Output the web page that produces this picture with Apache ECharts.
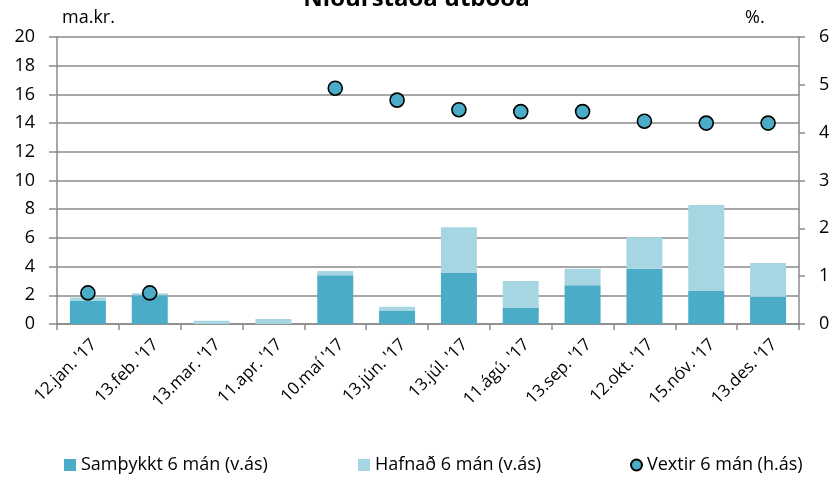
<!DOCTYPE html>
<html><head><meta charset="utf-8">
<script src="https://cdn.jsdelivr.net/npm/echarts@6/dist/echarts.min.js"></script>
<style>html,body{margin:0;padding:0;background:#fff}#c{width:833px;height:478px}</style>
</head><body><div id="c"></div>
<script>
const categories = ["12.jan. '17","13.feb. '17","13.mar. '17","11.apr. '17","10.maí '17","13.jún. '17","13.júl. '17","11.ágú. '17","13.sep. '17","12.okt. '17","15.nóv. '17","13.des. '17"];
const samthykkt = [1.6, 2.0, 0, 0, 3.4, 0.9, 3.55, 1.15, 2.7, 3.85, 2.3, 1.9];
const hafnad = [0.25, 0.15, 0.23, 0.35, 0.3, 0.3, 3.2, 1.85, 1.15, 2.2, 6.0, 2.35];
const vextir = [0.65, 0.65, null, null, 4.93, 4.68, 4.48, 4.44, 4.44, 4.24, 4.2, 4.2];
const leftTicks = {min:0, max:20, interval:2};
const rightTicks = {min:0, max:6, interval:1};

const FONT = "'Open Sans', sans-serif";
const grey = '#8a8a8a';
const chart = echarts.init(document.getElementById('c'), null, {renderer:'canvas'});
const legendText = {fontFamily:FONT, fontSize:18, color:'#000'};
chart.setOption({
  animation:false,
  title:{text:'Niðurstaða útboða', left:'center', top:-13, padding:0, textStyle:{fontFamily:FONT, fontSize:24, fontWeight:'bold', color:'#000'}},
  graphic:[
    {type:'text', left:62, top:9, style:{text:'ma.kr.', font:"18px 'Open Sans', sans-serif", fill:'#000'}},
    {type:'text', left:745, top:9, style:{text:'%.', font:"18px 'Open Sans', sans-serif", fill:'#000'}}
  ],
  grid:{left:57, right:34, top:37, bottom:154, containLabel:false},
  legend:[
    {data:[{name:'Samþykkt 6 mán (v.ás)', icon:'rect'}], left:64, top:456, padding:0, itemWidth:12, itemHeight:12, textStyle:legendText},
    {data:[{name:'Hafnað 6 mán (v.ás)', icon:'rect'}], left:358, top:456, padding:0, itemWidth:12, itemHeight:12, textStyle:legendText},
    {data:[{name:'Vextir 6 mán (h.ás)', icon:'circle'}], left:630, top:456, padding:0, itemWidth:11, itemHeight:11, textStyle:legendText}
  ],
  xAxis:{type:'category', data:categories, boundaryGap:true,
    axisLine:{lineStyle:{color:grey, width:1.5}},
    axisTick:{show:true, alignWithLabel:false, length:6, lineStyle:{color:grey, width:1.5}},
    axisLabel:{rotate:45, interval:0, margin:12, verticalAlign:'top', fontFamily:FONT, fontSize:17, color:'#000'}},
  yAxis:[
    {type:'value', min:leftTicks.min, max:leftTicks.max, interval:leftTicks.interval,
     axisLine:{show:true, lineStyle:{color:grey, width:1.5}},
     axisTick:{show:true, length:8, lineStyle:{color:grey, width:1.5}},
     splitLine:{lineStyle:{color:grey, width:1.5}},
     axisLabel:{fontFamily:FONT, fontSize:18, color:'#000', margin:22}},
    {type:'value', min:rightTicks.min, max:rightTicks.max, interval:rightTicks.interval, position:'right',
     axisLine:{show:true, lineStyle:{color:grey, width:1.5}},
     axisTick:{show:true, length:6, lineStyle:{color:grey, width:1.5}},
     splitLine:{show:false},
     axisLabel:{fontFamily:FONT, fontSize:18, color:'#000', margin:20}}
  ],
  series:[
    {name:'Samþykkt 6 mán (v.ás)', type:'bar', stack:'a', data:samthykkt, barWidth:36, itemStyle:{color:'#4aacc6'}},
    {name:'Hafnað 6 mán (v.ás)', type:'bar', stack:'a', data:hafnad, barWidth:36, itemStyle:{color:'#a7d6e3'}},
    {name:'Vextir 6 mán (h.ás)', type:'scatter', yAxisIndex:1, data:vextir, symbol:'circle', symbolSize:14,
     itemStyle:{color:'#4aacc6', borderColor:'#000', borderWidth:1.6, opacity:1}}
  ]
});
</script></body></html>
